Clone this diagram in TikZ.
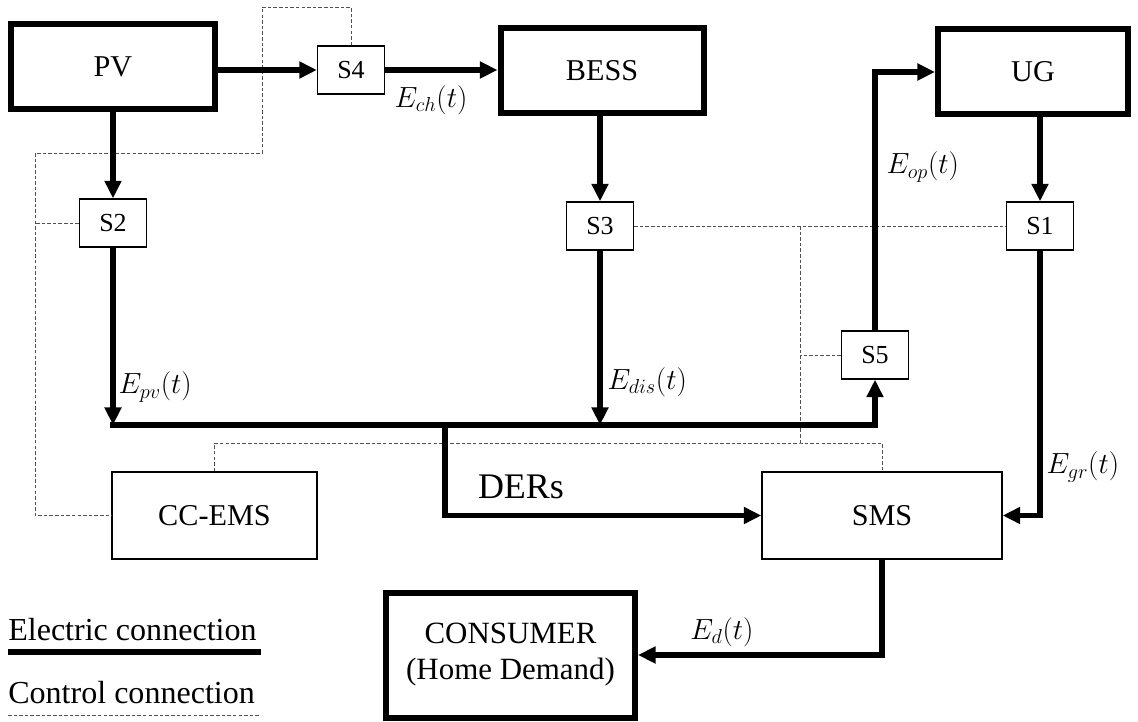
\documentclass[tikz,border=0pt]{standalone}
\usepackage{fontspec}
\setmainfont{Liberation Serif}
\usetikzlibrary{arrows.meta}
\definecolor{ctrlgray}{RGB}{80,80,80}

\begin{document}
\begin{tikzpicture}[x=0.25mm, y=-0.25mm, >={Triangle[length=12.5pt, width=11.5pt]},
    unit/.style={draw, line width=1.5mm, minimum width=50.75mm, minimum height=21.25mm, font=\fontsize{21.5}{25}\selectfont},
    sw/.style={draw, line width=0.9pt, minimum width=16.75mm, minimum height=12mm, font=\fontsize{18.5}{22}\selectfont},
    ctrlbox/.style={draw, line width=0.9pt, minimum height=21.75mm, font=\fontsize{21.5}{25}\selectfont},
    elec/.style={line width=1.375mm},
    ctrl/.style={draw=ctrlgray, line width=0.7pt, dash pattern=on 2.5pt off 1.5pt},
    lab/.style={font=\fontsize{19.5}{22}\selectfont, inner sep=1pt},
    legend/.style={font=\fontsize{22.8}{26}\selectfont, anchor=west, inner sep=0pt}]
    \useasboundingbox (0,0) rectangle (1138,722);

    % Sources and grid
    \node[unit] (PV) at (113,67) {PV};
    \node[sw] (S4) at (351,70) {S4};
    \node[unit] (BESS) at (602,71) {BESS};
    \node[unit, minimum width=47.5mm] (UG) at (1033,72) {UG};

    % Switches
    \node[sw] (S2) at (113,223) {S2};
    \node[sw] (S3) at (600,226) {S3};
    \node[sw] (S1) at (1040,226) {S1};
    \node[sw] (S5) at (875,355) {S5};

    % Management units and load
    \node[ctrlbox, minimum width=51.25mm] (CCEMS) at (214.5,515.5) {CC-EMS};
    \node[ctrlbox, minimum width=60mm] (SMS) at (882,515.5) {SMS};
    \node[unit, minimum width=62.25mm, minimum height=31.25mm, align=center, font=\fontsize{22}{25.6}\selectfont] (CONS) at (510.5,655) {CONSUMER\\(Home Demand)};

    % Bus and bend points
    \coordinate (busL) at (113,425);
    \coordinate (busR) at (875,425);
    \coordinate (busD) at (445,425);
    \coordinate (busS3) at (600,425);
    \coordinate (k1) at (262,7);
    \coordinate (k2) at (35,153);
    \coordinate (k3) at (800,226);
    \coordinate (k4) at (800,443);

    % Control connections
    \draw[ctrl] (S4.north) |- (k1) |- (k2) |- (CCEMS.west);
    \draw[ctrl] (S2.west) -- (S2.west -| k2);
    \draw[ctrl] (S3) -- (S1);
    \draw[ctrl] (k3) -- (k4);
    \draw[ctrl] (S5.west) -- (S5.west -| k3);
    \draw[ctrl] (CCEMS.north) |- (k4) -| (SMS.north);

    % Electric connections
    \draw[elec,->] (PV.east |- S4) -- (S4);
    \draw[elec,->] (S4) -- (S4 -| BESS.west);
    \draw[elec,->] (PV) -- (S2);
    \draw[elec,->] (BESS.south -| S3) -- (S3);
    \draw[elec,->] (UG.south -| S1) -- (S1);
    \draw[elec,->] (S2) -- (busL);
    \draw[elec,->] (S3) -- (busS3);
    \draw[elec,->, line cap=rect] (busL) -- (busR) -- (S5);
    \draw[elec,->] (busD) |- (SMS);
    \draw[elec,->] (S5) |- (UG);
    \draw[elec,->] (S1) |- (SMS);
    \draw[elec,->] (SMS) |- (CONS);

    % Flow labels
    \node[lab, anchor=west] (Lpv) at (117,387) {$E_{pv}(t)$};
    \node[lab, anchor=west] (Ldis) at (606,382) {$E_{dis}(t)$};
    \node[lab, anchor=west] (Lch) at (393,100) {$E_{ch}(t)$};
    \node[lab, anchor=west] (Lop) at (885,167) {$E_{op}(t)$};
    \node[lab, anchor=west] (Lgr) at (1045,467) {$E_{gr}(t)$};
    \node[lab] (Ld) at (722,632) {$E_{d}(t)$};
    \node[font=\fontsize{25.6}{30}\selectfont] (ders) at (521,487) {DERs};

    % Legend
    \node[legend] (legE) at (8,630) {Electric connection};
    \node[legend] (legC) at (8,693) {Control connection};
    \draw[elec] ([yshift=-5.5mm]legE.west) -- ([yshift=-5.5mm, xshift=1mm]legE.east);
    \draw[ctrl] ([yshift=-5.5mm]legC.west) -- ([yshift=-5.5mm, xshift=1mm]legC.east -| legE.east);
\end{tikzpicture}
\end{document}
